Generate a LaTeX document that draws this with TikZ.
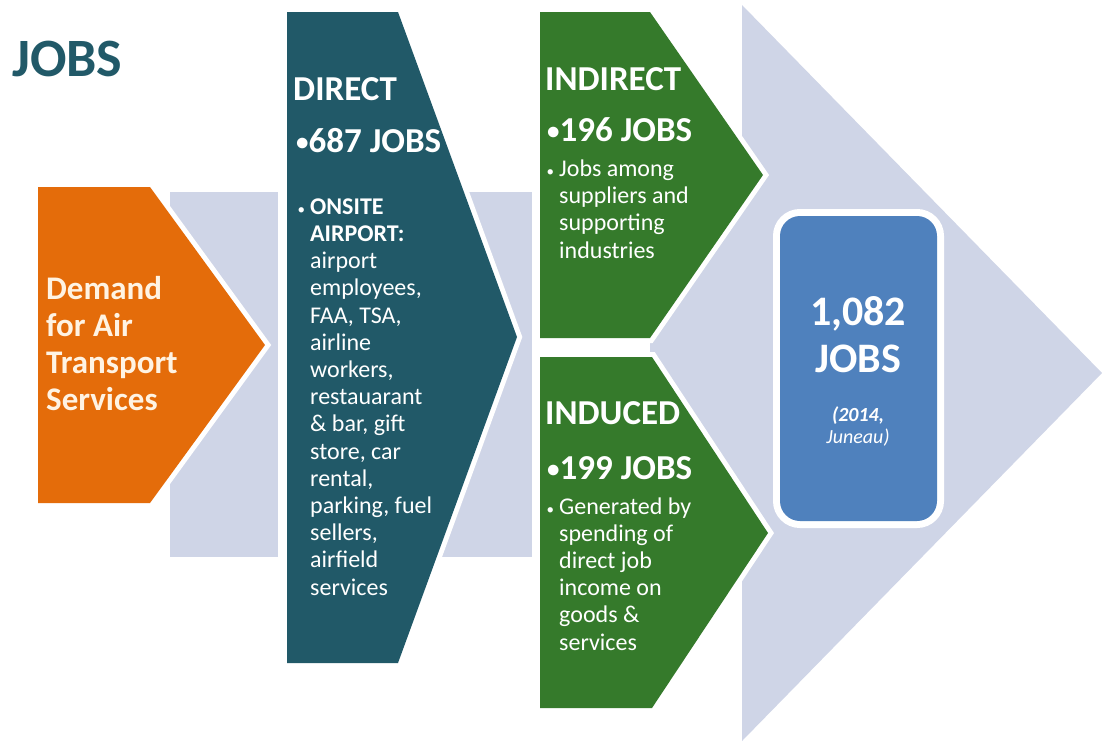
\documentclass[tikz,border=0pt]{standalone}
\usepackage{fontspec}
\setmainfont{Carlito}
\definecolor{jobteal}{HTML}{215968}
\definecolor{joborange}{HTML}{E46C0A}
\definecolor{jobgreen}{HTML}{357A2B}
\definecolor{jobblue}{HTML}{4F81BD}
\definecolor{jobgray}{HTML}{CFD5E7}
\definecolor{jobcream}{HTML}{FFF3E3}
\tikzset{
  halo/.style={preaction={draw=white, fill=white, line width=#1, line join=miter}},
  halo/.default=10pt,
  headtext/.style={anchor=base west, inner sep=0pt, text=white,
                   font=\bfseries\fontsize{35}{40}\selectfont},
  % multi-line nodes: base anchor sits on the last line
  bodytext/.style={anchor=base west, inner sep=0pt, text=white, align=left,
                   font=\fontsize{24}{27.2}\selectfont},
}
\newcommand{\smallbullet}{{\fontsize{15}{15}\selectfont\textbullet}\hspace{5pt}}
\newcommand{\headbullet}{{\fontsize{25}{25}\selectfont\raisebox{1.5pt}{\textbullet}}}
\begin{document}
\begin{tikzpicture}[x=1pt, y=-1pt, line join=round]
  \useasboundingbox (0,0) rectangle (1102,742);

  % Background arrow, seen only between the chevrons
  \fill[jobgray] (170,192) rectangle (278,557);
  \fill[jobgray] (440,192) rectangle (532,557);
  \fill[jobgray] (650,192) -- (742,192) -- (742,5) -- (1102,373)
                 -- (742,741) -- (742,557) -- (650,557) -- cycle;

  % Chevrons (white halo drawn first)
  \fill[joborange, halo] (38,187) -- (150,187) -- (265,345) -- (150,503) -- (38,503) -- cycle;
  \fill[jobteal, halo]   (287,12) -- (398,12) -- (517,337) -- (398,663) -- (287,663) -- cycle;
  \fill[jobgreen, halo]  (540,12) -- (650,12) -- (763,175) -- (650,338) -- (540,338) -- cycle;
  \fill[jobgreen, halo]  (540,357) -- (652,357) -- (768,533) -- (652,708) -- (540,708) -- cycle;

  % Total box
  \fill[jobblue, rounded corners=20pt, halo=14pt] (780,216) rectangle (937,521);

  % Title
  \node[anchor=base west, inner sep=0pt, text=jobteal,
        font=\bfseries\fontsize{54}{60}\selectfont] (title) at (12,76) {JOBS};

  % Demand
  \node[bodytext, text=jobcream, font=\bfseries\fontsize{33}{37}\selectfont]
    (demand) at (46,410) {Demand\\for Air\\Transport\\Services};

  % Direct
  \node[headtext] (direct) at (293,100) {DIRECT};
  \node[headtext] (directjobs) at (296,152) {\headbullet687 JOBS};
  \node[bodytext] (directlist) at (310,595)
    {\llap{\smallbullet}\textbf{ONSITE}\\ \textbf{AIRPORT:}\\ airport\\ employees,\\
     FAA, TSA,\\ airline\\ workers,\\ restauarant\\ \& bar, gift\\ store, car\\
     rental,\\ parking, fuel\\ sellers,\\ airfield\\ services};

  % Indirect
  \node[headtext] (indirect) at (545,90) {INDIRECT};
  \node[headtext] (indirectjobs) at (547,141) {\headbullet196 JOBS};
  \node[bodytext] (indirectlist) at (559,258)
    {\llap{\smallbullet}Jobs among\\ suppliers and\\ supporting\\ industries};

  % Induced
  \node[headtext] (induced) at (545,424) {INDUCED};
  \node[headtext] (inducedjobs) at (547,479) {\headbullet199 JOBS};
  \node[bodytext] (inducedlist) at (559,650)
    {\llap{\smallbullet}Generated by\\ spending of\\ direct job\\ income on\\
     goods \&\\ services};

  % Total
  \node[anchor=base, inner sep=0pt, text=white, align=center,
        font=\bfseries\fontsize{42}{47}\selectfont] (total) at (858,372) {1,082\\JOBS};
  \node[anchor=base, inner sep=0pt, text=white, align=center,
        font=\itshape\fontsize{20}{22}\selectfont] (place) at (858,443)
    {\textbf{(2014,}\\Juneau)};
\end{tikzpicture}
\end{document}
